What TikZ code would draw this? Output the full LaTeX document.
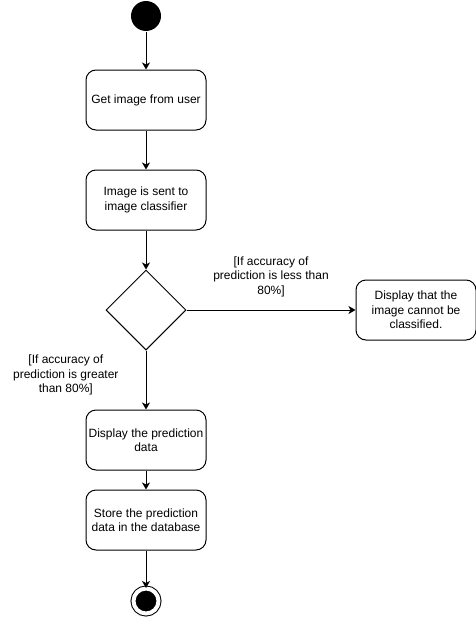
\documentclass[tikz,border=0pt]{standalone}
\usepackage{fontspec}
\setmainfont{Liberation Sans}
\usetikzlibrary{positioning}
\usetikzlibrary{shapes.geometric}
\usetikzlibrary{arrows.meta}

\begin{document}
\begin{tikzpicture}[x=1pt,y=-1pt,line width=1pt,
  font=\fontsize{12pt}{14.5pt}\selectfont,
  activity/.style={draw,rounded corners=10pt,minimum width=120pt,minimum height=60pt,inner sep=0pt,align=center},
  decision/.style={draw,diamond,minimum width=80pt,minimum height=80pt,inner sep=0pt},
  guard/.style={inner sep=0pt,align=center},
  flow/.style={-{Stealth[length=7pt,width=8pt,inset=2pt]}}]
\useasboundingbox (0,0) rectangle (476,621);

% Start and first steps
\node [circle,fill=black,minimum size=30pt,inner sep=0pt] at (146,16) (start) {};
\node [activity,below=38pt of start] (getimg) {Get image from user};
\node [activity,below=39pt of getimg] (sendimg) {Image is sent to\\image classifier};
\node [decision,below=39pt of sendimg] (check) {};
\node [activity,right=169pt of check] (fail) {Display that the\\image cannot be\\classified.};

% Last steps and end
\node [activity,below=59pt of check] (showpred) {Display the prediction\\data};
\node [activity,below=19pt of showpred] (storepred) {Store the prediction\\data in the database};
\node [circle,draw,fill=black,minimum size=25pt,inner sep=0pt,double=white,double distance=4pt,below=37.5pt of storepred] (end) {};

% Connections
\draw [flow] (start) -- (getimg);
\draw [flow] (getimg) -- (sendimg);
\draw [flow] (sendimg) -- (check);
\draw [flow] (check) -- node [guard,above=13pt] {[If accuracy of\\prediction is less than\\80\%]} (fail);
\draw [flow] (check) -- node [guard,pos=0.42,left=27pt] {[If accuracy of\\prediction is greater\\than 80\%]} (showpred);
\draw [flow] (showpred) -- (storepred);
\draw [flow] (storepred) -- (end);

\end{tikzpicture}
\end{document}
